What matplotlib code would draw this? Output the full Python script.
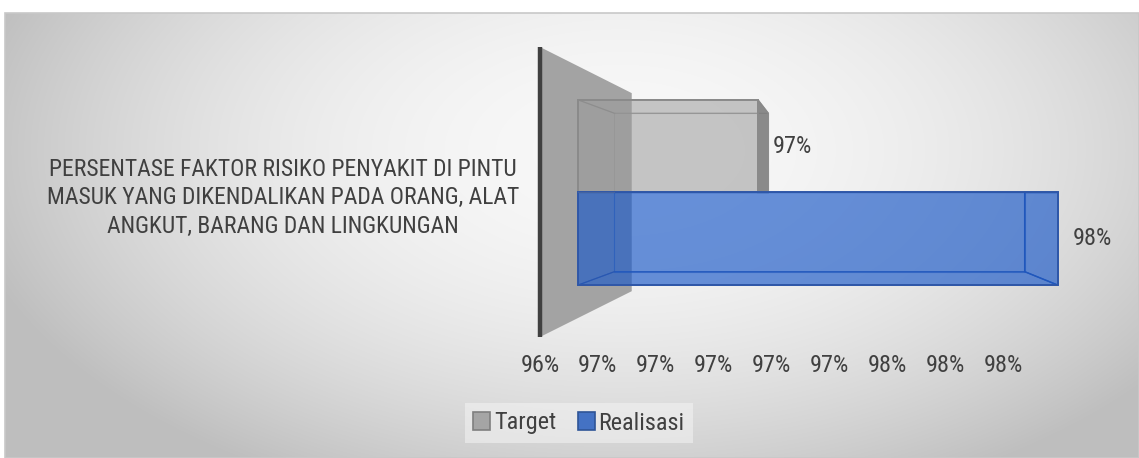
import numpy as np
import matplotlib
matplotlib.use("Agg")
import matplotlib.pyplot as plt
from matplotlib.patches import Polygon, Patch, Rectangle

plt.rcParams["font.family"] = ["Roboto Condensed", "DejaVu Sans"]
plt.rcParams["font.weight"] = "normal"

category = ("PERSENTASE FAKTOR RISIKO PENYAKIT DI PINTU\n"
            "MASUK YANG DIKENDALIKAN PADA ORANG, ALAT\n"
            "ANGKUT, BARANG DAN LINGKUNGAN")
series = ["Target", "Realisasi"]
values = [97.0, 98.0]
ticks = [96.4, 96.6, 96.8, 97.0, 97.2, 97.4, 97.6, 97.8, 98.0]
tick_labels = [f"{t:.0f}%" for t in ticks]
value_labels = ["97%", "98%"]

face = ["#9b9b9b", "#1958c8"]
side = ["#7f7f7f", "#1958c8"]
edge = ["#8a8a8a", "#2f57a8"]
alpha = [0.55, 0.65]
text_col = "#404040"

W, H = 1139, 458
fig = plt.figure(figsize=(W / 100, H / 100), dpi=100)

# chart area background (radial gradient)
bg = fig.add_axes([5 / W, 0, 1134 / W, 445 / H])
yy, xx = np.mgrid[0:445, 0:1134]
r2 = ((xx - 615) / 640.0) ** 2 + ((yy - 137) / 360.0) ** 2
shade = np.clip(248 - 53 * r2, 190, 250) / 255.0
bg.imshow(np.dstack([shade] * 3), aspect="auto", extent=[0, 1, 0, 1], interpolation="bilinear")
bg.set_axis_off()
fig.patches.append(Rectangle((5 / W, 0), 1134 / W, 445 / H, transform=fig.transFigure,
                             fill=False, edgecolor="#c8c8c8", lw=1.2))

ax = fig.add_axes([540 / W, (H - 337) / H, 463 / W, 290 / H])
ax.patch.set_alpha(0)
xmin, xmax = ticks[0], ticks[-1]
ylo, yhi = -1.56, 1.57
ax.set_xlim(xmin, xmax)
ax.set_ylim(ylo, yhi)
for s in ax.spines.values():
    s.set_visible(False)

# simple perspective: points pulled toward a vanishing point
vp = np.array([97.4, 0.0])
k_bar, k_wall = 0.855, 0.683
x_start, x_slope = 96.531, 1.0366


def proj(pts, k):
    pts = np.asarray(pts, float)
    return vp + k * (pts - vp)


# back wall
wall_front = np.array([[xmin, yhi], [xmin, ylo]])
wall = np.vstack([wall_front, proj(wall_front, k_wall)[::-1]])
ax.add_patch(Polygon(wall, closed=True, facecolor="#a3a3a3", edgecolor="none", clip_on=False))
ax.plot([xmin, xmin], [ylo, yhi], color="#404040", lw=3.2, solid_capstyle="butt", clip_on=False)

# bars: Target on top row, Realisasi below
for i, v in enumerate(values):
    y0, y1 = (0.0, 1.0) if i == 0 else (-1.0, 0.0)
    x0, x1 = x_start, x_start + (v - xmin) * x_slope
    F = np.array([[x0, y0], [x1, y0], [x1, y1], [x0, y1]])
    B = proj(F, k_bar)
    # back face + left face outlines
    ax.add_patch(Polygon(B, closed=True, fill=False, edgecolor=edge[i], lw=0.8, alpha=0.6, clip_on=False))
    for j in (0, 3):
        ax.plot([F[j, 0], B[j, 0]], [F[j, 1], B[j, 1]], color=edge[i], lw=0.8, alpha=0.6, clip_on=False)
    # top / bottom faces (inside the front outline, edges only)
    top = np.array([F[3], F[2], B[2], B[3]])
    bot = np.array([F[0], F[1], B[1], B[0]])
    for q in (top, bot):
        ax.add_patch(Polygon(q, closed=True, fill=False, edgecolor=edge[i], lw=0.8, clip_on=False))
    # right face: filled only where it sticks out past the front face
    right = np.array([F[1], F[2], B[2], B[1]])
    sticks_out = B[1, 0] > F[1, 0]
    ax.add_patch(Polygon(right, closed=True, facecolor=side[i] if sticks_out else "none",
                         alpha=0.9 if sticks_out else 1, edgecolor=edge[i], lw=1.1, clip_on=False))
    # front face
    ax.add_patch(Polygon(F, closed=True, facecolor=face[i], alpha=alpha[i], edgecolor="none", clip_on=False))
    ax.add_patch(Polygon(F, closed=True, fill=False, edgecolor=edge[i], lw=1.4, clip_on=False))
    ax.annotate(value_labels[i], (F[1, 0], (y0 + y1) / 2), xytext=(11, 0), textcoords="offset points",
                ha="left", va="center", fontsize=17.5, color=text_col, annotation_clip=False)

ax.set_xticks(ticks, tick_labels, fontsize=17.5, color=text_col)
ax.set_yticks([0.0], [category], fontsize=17, color=text_col)
ax.tick_params(axis="x", length=0, pad=12)
ax.tick_params(axis="y", length=0, pad=15)
for t in ax.get_yticklabels():
    t.set_multialignment("center")
    t.set_linespacing(1.3)

handles = [Patch(facecolor="#a5a5a5", edgecolor="#7f7f7f", lw=1.2),
           Patch(facecolor="#4472c4", edgecolor="#2f5597", lw=1.2)]
leg = fig.legend(handles, series, loc="center", bbox_to_anchor=(579 / W, 1 - 423 / H), ncol=2,
                 fontsize=17.5, frameon=True, facecolor="#f4f4f4", edgecolor="none", framealpha=0.55,
                 handlelength=0.7, handleheight=0.7, handletextpad=0.15, columnspacing=0.9,
                 borderpad=0.35, fancybox=False)
for t in leg.get_texts():
    t.set_color(text_col)

fig.savefig("out.png", dpi=100)
